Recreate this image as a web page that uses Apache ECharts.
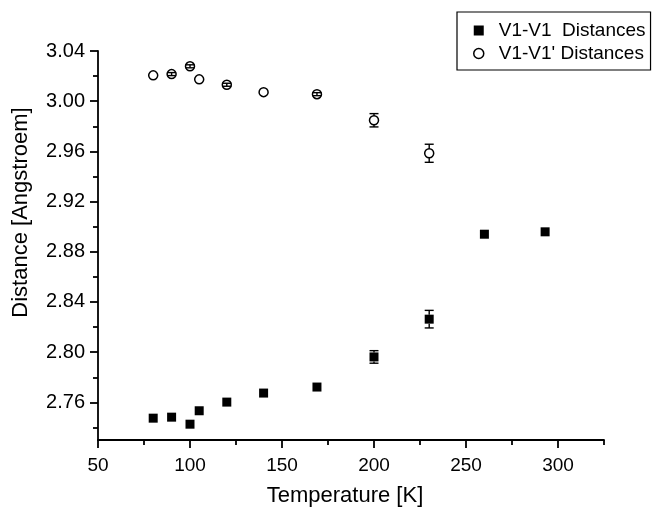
<!DOCTYPE html>
<html>
<head>
<meta charset="utf-8">
<script src="https://cdn.jsdelivr.net/npm/echarts@6/dist/echarts.min.js"></script>
<style>html,body{margin:0;padding:0;background:#fff}#c{width:661px;height:507px}</style>
</head>
<body>
<div id="c"></div>
<script>
// Data
const tempV1 = [80, 90, 100, 105, 120, 140, 169, 200, 230, 260, 293];
const distV1 = [2.7474, 2.7482, 2.7426, 2.7533, 2.7602, 2.7674, 2.7722, 2.7962, 2.8263, 2.8940, 2.8959];
const errV1  = [0, 0, 0, 0, 0, 0, 0, 0.005, 0.007, 0, 0];
const tempV1p = [80, 90, 100, 105, 120, 140, 169, 200, 230];
const distV1p = [3.0206, 3.0216, 3.0278, 3.0174, 3.0131, 3.0072, 3.0056, 2.9848, 2.9585];
const errV1p  = [0, 0.0012, 0.0012, 0, 0.0012, 0, 0.0012, 0.0053, 0.0072];
const xMajor = [50, 100, 150, 200, 250, 300];
const xMinor = [75, 125, 175, 225, 275, 325];
const yMajor = [2.76, 2.80, 2.84, 2.88, 2.92, 2.96, 3.00, 3.04];
const yMinor = [2.74, 2.78, 2.82, 2.86, 2.90, 2.94, 2.98, 3.02];
const names = ['V1-V1  Distances', "V1-V1' Distances"];

const FONT = '"Liberation Sans", Arial, Helvetica, sans-serif';
const chart = echarts.init(document.getElementById('c'), null, {renderer: 'canvas'});

function errSeries(xs, ys, es, markerR) {
  return {
    type: 'custom',
    xAxisIndex: 0, yAxisIndex: 0,
    z: 5,
    silent: true,
    data: xs.map((x, i) => [x, ys[i], es[i]]),
    renderItem: function (params, api) {
      const e = api.value(2);
      if (!e) return null;
      const c = api.coord([api.value(0), api.value(1)]);
      const t = api.coord([api.value(0), api.value(1) + e]);
      const b = api.coord([api.value(0), api.value(1) - e]);
      const hw = 4.5;
      const st = {stroke: '#000', lineWidth: 1.4};
      const ch = [];
      if (c[1] - t[1] > markerR) {
        ch.push({type: 'line', shape: {x1: c[0], y1: t[1], x2: c[0], y2: c[1] - markerR}, style: st});
        ch.push({type: 'line', shape: {x1: c[0], y1: c[1] + markerR, x2: c[0], y2: b[1]}, style: st});
      } else {
        ch.push({type: 'line', shape: {x1: c[0], y1: t[1], x2: c[0], y2: b[1]}, style: st});
      }
      ch.push({type: 'line', shape: {x1: c[0] - hw, y1: t[1], x2: c[0] + hw, y2: t[1]}, style: st});
      ch.push({type: 'line', shape: {x1: c[0] - hw, y1: b[1], x2: c[0] + hw, y2: b[1]}, style: st});
      return {type: 'group', children: ch};
    }
  };
}

const axisLineStyle = {color: '#000', width: 1.8};
chart.setOption({
  animation: false,
  backgroundColor: '#fff',
  grid: {left: 98, right: 57, top: 51, bottom: 67, containLabel: false, outerBoundsMode: 'none'},
  legend: {
    orient: 'vertical',
    left: 457, top: 12,
    padding: [9, 5, 7, 16],
    borderColor: '#000', borderWidth: 1.2, borderRadius: 0,
    itemWidth: 10, itemHeight: 10, itemGap: 4,
    textStyle: {fontFamily: FONT, fontSize: 19, color: '#000', padding: [0, 0, 0, 10]},
    data: [
      {name: names[0], icon: 'rect', itemStyle: {color: '#000', borderWidth: 0}},
      {name: names[1], icon: 'circle', itemStyle: {color: '#fff', borderColor: '#000', borderWidth: 1.5}}
    ]
  },
  xAxis: [{
    type: 'value', min: 50, max: 325,
    name: 'Temperature [K]', nameLocation: 'middle', nameGap: 45,
    nameTextStyle: {fontFamily: FONT, fontSize: 22, color: '#000', padding: [0, 12, 0, 0]},
    axisLine: {show: true, onZero: false, lineStyle: axisLineStyle},
    axisTick: {show: true, length: 8, customValues: xMajor, lineStyle: axisLineStyle},
    axisLabel: {customValues: xMajor, fontFamily: FONT, fontSize: 19, color: '#000', margin: 16},
    splitLine: {show: false}
  }, {
    type: 'value', min: 50, max: 325, position: 'bottom',
    axisLine: {show: false},
    axisTick: {show: true, length: 5, customValues: xMinor, lineStyle: axisLineStyle},
    axisLabel: {show: false},
    splitLine: {show: false}
  }],
  yAxis: [{
    type: 'value', min: 2.73, max: 3.04,
    name: 'Distance [Angstroem]', nameLocation: 'middle', nameGap: 66,
    nameTextStyle: {fontFamily: FONT, fontSize: 22, color: '#000', padding: [0, 0, 0, 66]},
    axisLine: {show: true, onZero: false, lineStyle: axisLineStyle},
    axisTick: {show: true, length: 8, customValues: yMajor, lineStyle: axisLineStyle},
    axisLabel: {customValues: yMajor, formatter: v => v.toFixed(2), fontFamily: FONT, fontSize: 20, color: '#000', margin: 13},
    splitLine: {show: false}
  }, {
    type: 'value', min: 2.73, max: 3.04, position: 'left', offset: 0,
    axisLine: {show: false},
    axisTick: {show: true, length: 5, customValues: yMinor, lineStyle: axisLineStyle},
    axisLabel: {show: false},
    splitLine: {show: false}
  }],
  series: [
    errSeries(tempV1, distV1, errV1, 4.5),
    {
      name: names[0], type: 'scatter', symbol: 'rect', symbolSize: 9, z: 4,
      xAxisIndex: 0, yAxisIndex: 0,
      itemStyle: {color: '#000', opacity: 1},
      data: tempV1.map((x, i) => [x, distV1[i]])
    },
    {
      name: names[1], type: 'scatter', symbol: 'circle', symbolSize: 9, z: 4,
      xAxisIndex: 0, yAxisIndex: 0,
      itemStyle: {color: '#fff', borderColor: '#000', borderWidth: 1.5, opacity: 1},
      data: tempV1p.map((x, i) => [x, distV1p[i]])
    },
    errSeries(tempV1p, distV1p, errV1p, 4.5)
  ]
});
</script>
</body>
</html>
